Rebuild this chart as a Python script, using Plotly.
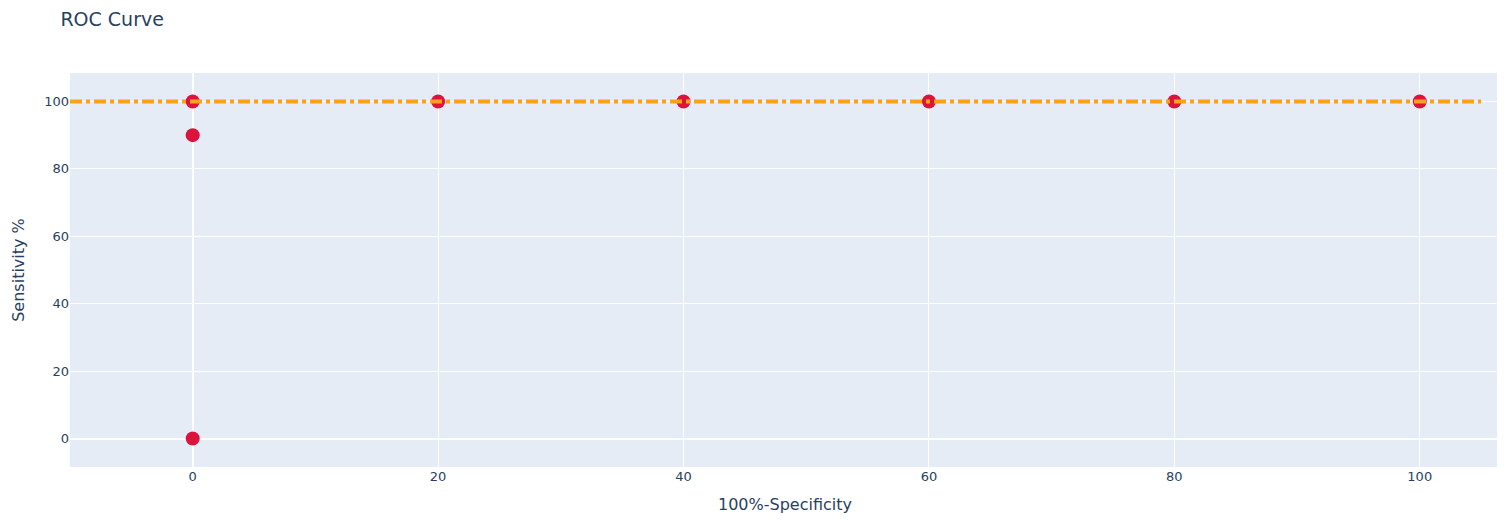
"""ROC curve with a reference line at full sensitivity."""
import plotly.graph_objects as go

# ROC points (100% - specificity, sensitivity %)
FPR = [0, 0, 0, 20, 40, 60, 80, 100]
SENSITIVITY = [0, 90, 100, 100, 100, 100, 100, 100]

# reference line at 100% sensitivity
REF_X = [-10, 105]
REF_Y = [100, 100]

fig = go.Figure()
fig.add_trace(
    go.Scatter(
        x=FPR,
        y=SENSITIVITY,
        mode="markers",
        marker=dict(color="crimson", size=14),
        showlegend=False,
    )
)
fig.add_trace(
    go.Scatter(
        x=REF_X,
        y=REF_Y,
        mode="lines",
        line=dict(color="#FFA01A", width=4, dash="dashdot"),
        showlegend=False,
    )
)

# page body adds an 8px offset, so the figure is sized to fit the window
fig.update_layout(
    width=1497,
    height=512,
    font=dict(family="DejaVu Sans", size=13),
    margin=dict(l=62, r=5, t=65, b=53),
    title=dict(text="ROC Curve", x=0.035, xanchor="left", y=0.99, yanchor="top",
               pad=dict(t=0), font=dict(size=19)),
    xaxis=dict(title=dict(text="100%-Specificity", font=dict(size=16))),
    yaxis=dict(title=dict(text="Sensitivity %", font=dict(size=16))),
)

fig.write_html("out.html")
